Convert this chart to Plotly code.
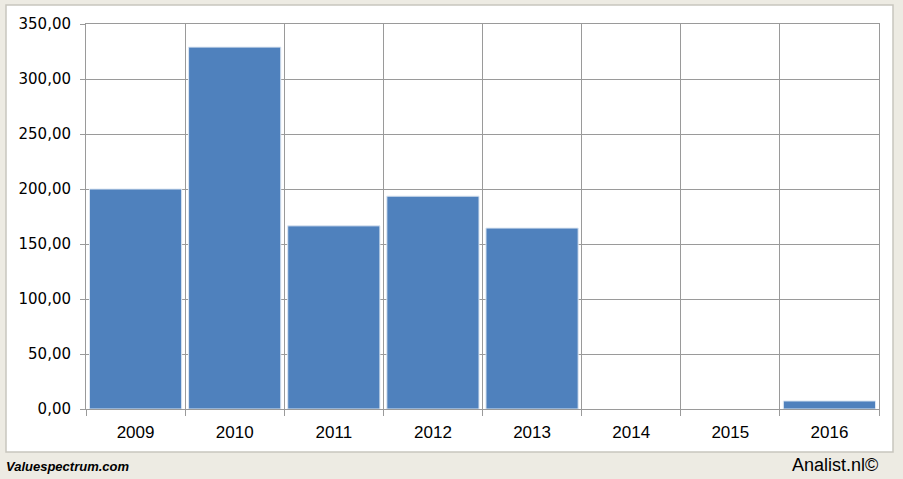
import plotly.graph_objects as go

years = ["2009", "2010", "2011", "2012", "2013", "2014", "2015", "2016"]
values = [200.0, 329.0, 166.5, 193.5, 164.5, 0.0, 0.0, 7.3]
y_ticks = [0, 50, 100, 150, 200, 250, 300, 350]

W, H = 903, 479
L, R, T, B = 86, 24, 24, 70
pw, ph = W - L - R, H - T - B

def px_x(x):
    return (x - L) / pw

def px_y(y):
    return (H - B - y) / ph

fig = go.Figure()
fig.add_trace(go.Bar(
    x=years, y=values,
    marker=dict(color="#4F81BD",
                line=dict(color="#DCE6F2", width=[1 if v > 0 else 0 for v in values])),
    hoverinfo="skip",
))

grid = "#9A9A9A"
fig.update_layout(
    width=W, height=H,
    margin=dict(l=L, r=R, t=T, b=B),
    paper_bgcolor="#EDEBE3",
    plot_bgcolor="rgba(0,0,0,0)",
    bargap=0.07,
    showlegend=False,
    separators=",.",
    xaxis=dict(
        type="category", tickson="boundaries",
        showgrid=True, gridcolor=grid, gridwidth=1,
        showline=True, linecolor=grid, mirror=True,
        ticks="outside", ticklen=6, tickcolor=grid,
        ticklabelstandoff=8,
        tickfont=dict(family="Liberation Sans, Arial", size=17, color="#000"),
    ),
    yaxis=dict(
        range=[0, 350], tickvals=y_ticks, tickformat=".2f",
        showgrid=True, gridcolor=grid, gridwidth=1,
        showline=True, linecolor=grid, mirror=True,
        ticks="outside", ticklen=5, tickcolor=grid,
        ticklabelstandoff=6,
        tickfont=dict(family="DejaVu Sans, Verdana", size=15, color="#000"),
        zeroline=False,
    ),
    shapes=[dict(
        type="rect", xref="paper", yref="paper", layer="below",
        x0=px_x(6), x1=px_x(893), y0=px_y(452), y1=px_y(5),
        fillcolor="white", line=dict(color="#C8C6BE", width=1.5),
    )],
    annotations=[
        dict(text="<b><i>Valuespectrum.com</i></b>", xref="paper", yref="paper",
             x=px_x(4), y=px_y(466), xanchor="left", yanchor="middle",
             showarrow=False, font=dict(family="Liberation Sans, Arial", size=13, color="#000")),
        dict(text="Analist.nl©", xref="paper", yref="paper",
             x=px_x(880), y=px_y(465), xanchor="right", yanchor="middle",
             showarrow=False, font=dict(family="Liberation Sans, Arial", size=18, color="#000")),
    ],
)

fig.write_html("out.html", config={"displayModeBar": False},
               post_script="document.body.style.margin='0';document.body.style.overflow='hidden';")
